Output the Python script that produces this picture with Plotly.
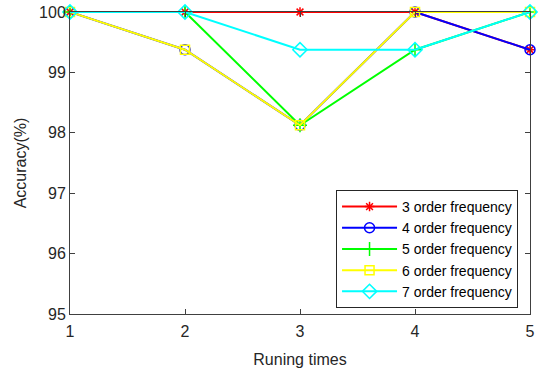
import plotly.graph_objects as go

runs = [1, 2, 3, 4, 5]
names = ["3 order frequency", "4 order frequency", "5 order frequency",
         "6 order frequency", "7 order frequency"]
acc3 = [100, 100, 100, 100, 99.375]
acc4 = [100, 99.375, 98.125, 100, 99.375]
acc5 = [100, 100, 98.125, 99.375, 100]
acc6 = [100, 99.375, 98.125, 100, 100]
acc7 = [100, 100, 99.375, 99.375, 100]

series = [acc3, acc4, acc5, acc6, acc7]
colors = ["#ff0000", "#0000ff", "#00ff00", "#ffff00", "#00ffff"]
symbols = ["asterisk-open", "circle-open", "cross-thin-open", "square-open", "diamond-open"]
sizes = [8, 10, 10, 9, 11]

fig = go.Figure()
for n, ys, c, s, sz in zip(names, series, colors, symbols, sizes):
    fig.add_trace(go.Scatter(
        x=runs, y=ys, name=n, mode="lines+markers",
        line=dict(color=c, width=2),
        marker=dict(symbol=s, size=sz, color=c, line=dict(color=c, width=1.5)),
        cliponaxis=False,
    ))

FONT = "Liberation Sans, Arial, sans-serif"
axis_common = dict(
    showline=True, linecolor="#404040", linewidth=1, mirror="ticks",
    ticks="inside", ticklen=5, tickcolor="#404040", showgrid=False, zeroline=False,
    automargin=False, ticklabeloverflow="allow",
    tickfont=dict(family=FONT, size=16, color="#262626"),
    title_font=dict(family=FONT, size=16, color="#262626"),
)

fig.update_xaxes(range=[1, 5], tickvals=[1, 2, 3, 4, 5], title_text="Runing times",
                 title_standoff=14, ticklabelstandoff=3, **axis_common)
fig.update_yaxes(range=[95, 100], tickvals=[95, 96, 97, 98, 99, 100], title_text="Accuracy(%)",
                 title_standoff=8, **axis_common)

fig.update_layout(
    width=550, height=374,
    margin=dict(l=70, r=20, t=12, b=60, autoexpand=False),
    plot_bgcolor="white", paper_bgcolor="white",
    font=dict(family=FONT, size=15, color="#262626"),
    legend=dict(
        x=0.974, y=0.02, xanchor="right", yanchor="bottom",
        bgcolor="white", bordercolor="#262626", borderwidth=1,
        font=dict(family=FONT, size=14, color="#000000"),
        tracegroupgap=0, itemwidth=55,
    ),
)

fig.write_html("out.html", config={"displayModeBar": False},
               post_script="document.body.style.margin='0px';")
